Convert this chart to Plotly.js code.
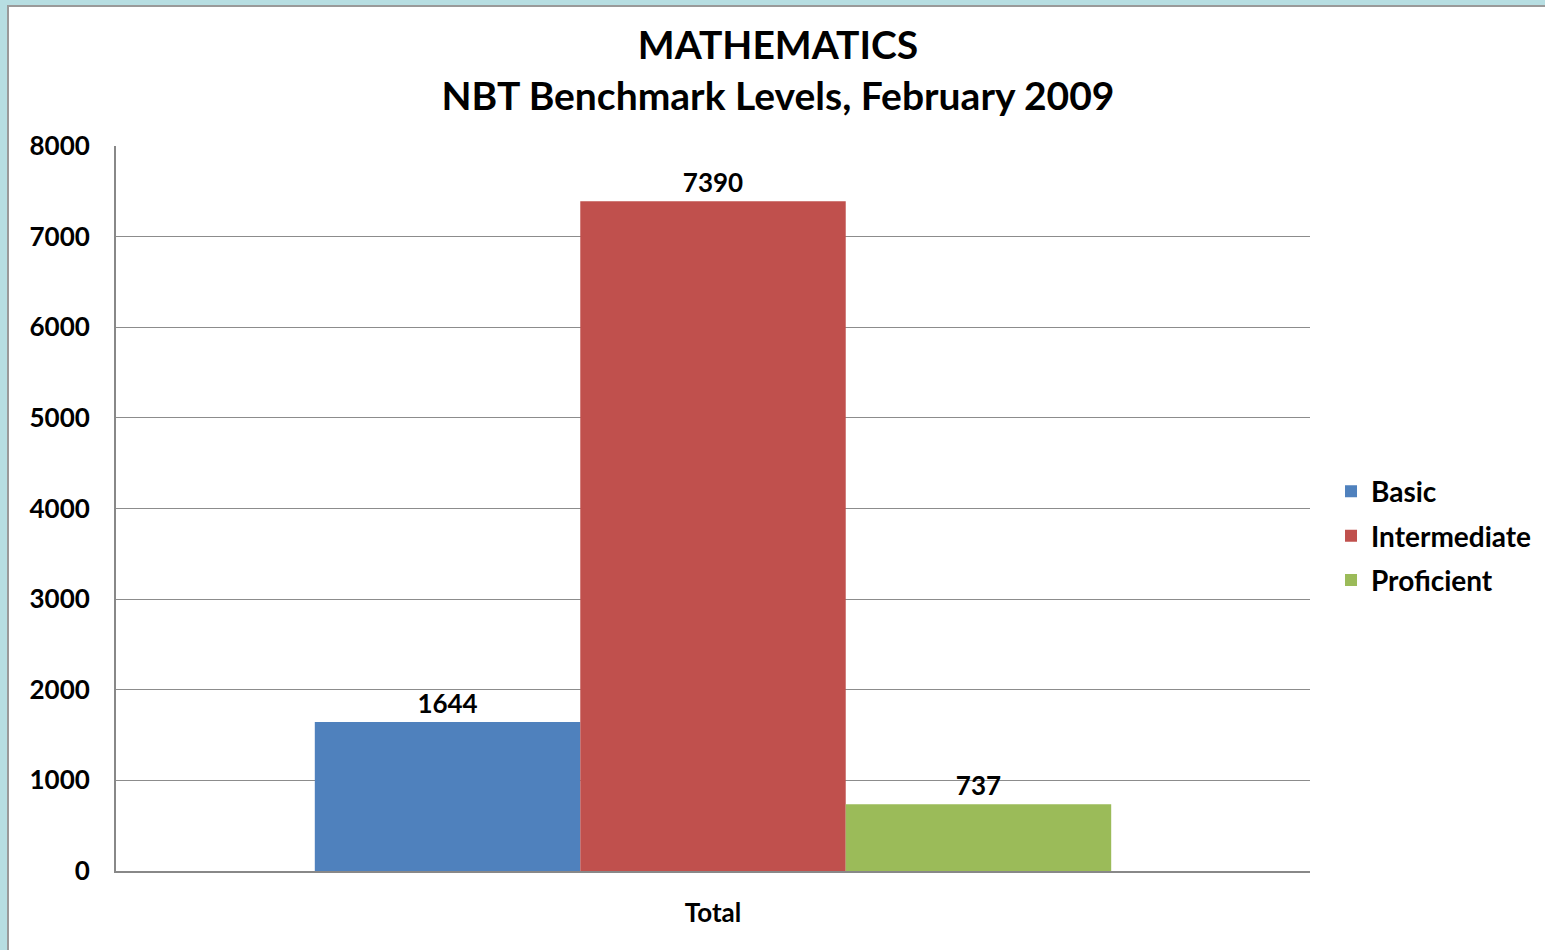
<!DOCTYPE html>
<html>
<head>
<meta charset="utf-8">
<script src="https://cdn.plot.ly/plotly-3.0.1.min.js"></script>
<style>
  html, body { margin: 0; padding: 0; background: #b7dee2; width: 1545px; height: 950px; overflow: hidden; }
  #frame { position: absolute; left: 7px; top: 5px; width: 1538px; height: 945px; border-left: 2px solid #9a9a9a; border-top: 2px solid #9a9a9a; background: #ffffff; }
  #chart { width: 1538px; height: 945px; }
</style>
</head>
<body>
<div id="frame"><div id="chart"></div></div>
<script>
const categories = ["Total"];
const seriesNames = ["Basic", "Intermediate", "Proficient"];
const basicValues = [1644];
const intermediateValues = [7390];
const proficientValues = [737];
const seriesColors = ["#4f81bd", "#c0504d", "#9bbb59"];
const yTickValues = [0, 1000, 2000, 3000, 4000, 5000, 6000, 7000, 8000];

const FONT = "Lato, 'Open Sans', sans-serif";
const valuesList = [basicValues, intermediateValues, proficientValues];

const traces = seriesNames.map((name, i) => ({
  type: "bar",
  name: name,
  x: categories,
  y: valuesList[i],
  text: valuesList[i].map(String),
  textposition: "outside",
  cliponaxis: false,
  textfont: { family: FONT, size: 26, color: "#000000", weight: "bold" },
  marker: { color: seriesColors[i], line: { width: 0 } },
  legendgroup: name,
  hoverinfo: "x+y+name"
}));

const layout = {
  width: 1538,
  height: 945,
  paper_bgcolor: "#ffffff",
  plot_bgcolor: "#ffffff",
  margin: { l: 107, r: 237, t: 139, b: 81, pad: 0, autoexpand: false },
  font: { family: FONT, color: "#000000", weight: "bold" },
  title: {
    text: "MATHEMATICS<br>NBT Benchmark Levels, February 2009",
    font: { family: FONT, size: 39, color: "#000000", weight: "bold" },
    xref: "container", x: 0.5, xanchor: "center",
    yref: "container", y: 1 - 52 / 945, yanchor: "top"
  },
  barmode: "group",
  bargap: 0.333,
  bargroupgap: 0,
  showlegend: true,
  legend: {
    x: 1.0176, xanchor: "left",
    y: 0.462, yanchor: "middle",
    font: { family: FONT, size: 28, color: "#000000", weight: "bold" },
    traceorder: "grouped",
    tracegroupgap: 5,
    itemwidth: 30,
    bgcolor: "rgba(0,0,0,0)"
  },
  xaxis: {
    type: "category",
    showgrid: false,
    showline: true,
    linecolor: "#888888",
    linewidth: 2,
    ticks: "",
    ticklabelstandoff: 18,
    tickfont: { family: FONT, size: 26, color: "#000000", weight: "bold" },
    fixedrange: true
  },
  yaxis: {
    range: [0, 8000],
    tickvals: yTickValues,
    ticktext: yTickValues.map(String),
    showgrid: true,
    gridcolor: "#8c8c8c",
    gridwidth: 1,
    zeroline: false,
    showline: true,
    linecolor: "#888888",
    linewidth: 2,
    ticks: "",
    ticklabelstandoff: 19,
    tickfont: { family: FONT, size: 26, color: "#000000", weight: "bold" },
    fixedrange: true
  }
};

Plotly.newPlot("chart", traces, layout, { displayModeBar: false, staticPlot: false });
</script>
</body>
</html>
